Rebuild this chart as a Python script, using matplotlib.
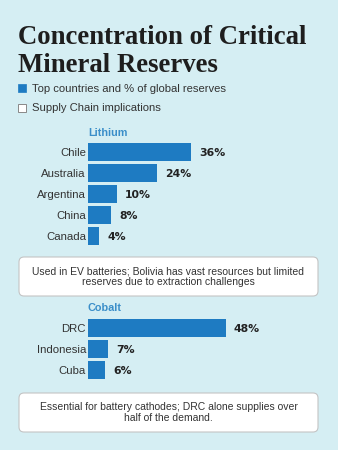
import matplotlib.pyplot as plt
from matplotlib.patches import FancyBboxPatch, Rectangle

# data
lithium_countries = ["Chile", "Australia", "Argentina", "China", "Canada"]
lithium_share = [36, 24, 10, 8, 4]
lithium_note = "Used in EV batteries; Bolivia has vast resources but limited\nreserves due to extraction challenges"

cobalt_countries = ["DRC", "Indonesia", "Cuba"]
cobalt_share = [48, 7, 6]
cobalt_note = "Essential for battery cathodes; DRC alone supplies over\nhalf of the demand."

BG = "#d5eef3"
BAR = "#1e7bc2"
HEAD = "#3a8ec9"
INK = "#222222"

W, H = 338, 450
fig = plt.figure(figsize=(W / 100, H / 100), dpi=100, facecolor=BG)

# overlay axes in pixel units for the free text and boxes
ov = fig.add_axes([0, 0, 1, 1])
ov.set_xlim(0, W)
ov.set_ylim(H, 0)
ov.axis("off")
ov.set_zorder(5)

ov.text(18, 44, "Concentration of Critical", fontsize=19.3, fontweight="bold",
        family="Liberation Serif", color="#1e1e1e", va="baseline")
ov.text(18, 72.5, "Mineral Reserves", fontsize=19.3, fontweight="bold",
        family="Liberation Serif", color="#1e1e1e", va="baseline")

# legend
ov.add_patch(Rectangle((18, 84), 8, 8, facecolor=BAR, edgecolor=BAR, lw=0.5))
ov.text(32, 88.5, "Top countries and % of global reserves", fontsize=8.1,
        family="Liberation Sans", color="#333333", va="center")
ov.add_patch(Rectangle((18, 104), 8, 8, facecolor="white", edgecolor="#888888", lw=0.7))
ov.text(32, 108, "Supply Chain implications", fontsize=8.1,
        family="Liberation Sans", color="#333333", va="center")

px_per_pct = 2.87


def bar_block(countries, share, title, title_y, top, note, box_y):
    n = len(countries)
    pitch = 21
    height = n * pitch
    left = 88
    width = 240
    ax = fig.add_axes([left / W, 1 - (top + height) / H, width / W, height / H])
    ax.set_facecolor("none")
    ypos = list(range(n))
    ax.barh(ypos, share, height=0.86, color=BAR)
    ax.set_xlim(0, width / px_per_pct)
    ax.set_ylim(n - 0.5, -0.5)
    ax.set_yticks(ypos)
    ax.set_yticklabels(countries, family="Liberation Sans", fontsize=8.2, color="#333333")
    ax.tick_params(axis="y", length=0, pad=1.5)
    ax.set_xticks([])
    for s in ax.spines.values():
        s.set_visible(False)
    for y, v in zip(ypos, share):
        ax.text(v + 8 / px_per_pct, y + 0.05, f"{v}%", fontsize=7.8, fontweight="bold",
                family="DejaVu Sans", color=INK, va="center")
    ov.text(88, title_y, title, fontsize=7.8, fontweight="bold",
            family="Liberation Sans", color=HEAD, va="center")
    ov.add_patch(FancyBboxPatch((19, box_y), 299, 39, boxstyle="round,pad=0,rounding_size=5",
                                facecolor="white", edgecolor="#c4c4c4", lw=0.8))
    ov.text(168.5, box_y + 19.5, note, fontsize=7.5, family="Liberation Sans",
            color="#333333", ha="center", va="center", linespacing=1.1)


bar_block(lithium_countries, lithium_share, "Lithium", 132.5, 141.5, lithium_note, 257)
bar_block(cobalt_countries, cobalt_share, "Cobalt", 308, 317.5, cobalt_note, 393)

fig.savefig("out.png", dpi=100, facecolor=BG)
